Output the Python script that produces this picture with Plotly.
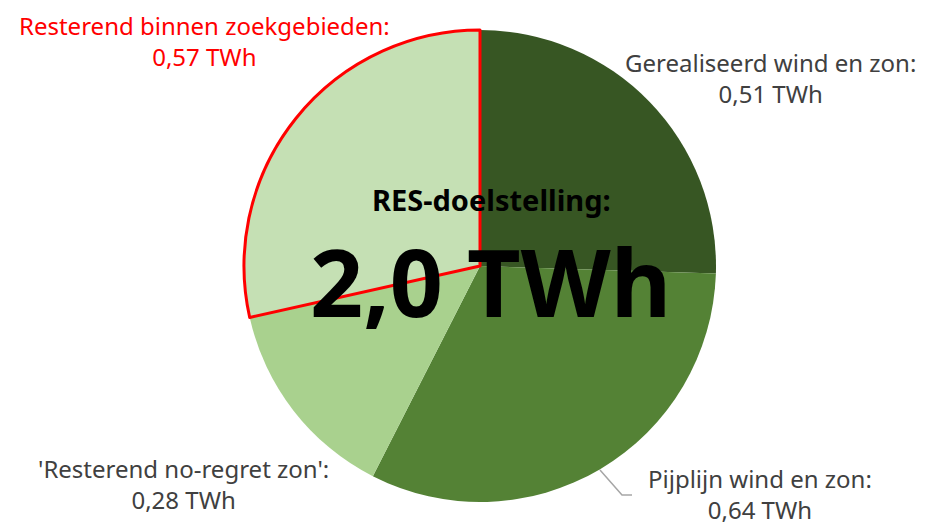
import plotly.graph_objects as go

# page has a default 8px body margin; lay out in reference pixels, shifted by it
OFF = 8
W, H = 928 - OFF, 526 - OFF

labels = ["Gerealiseerd wind en zon", "Pijplijn wind en zon",
          "'Resterend no-regret zon'", "Resterend binnen zoekgebieden"]
values = [0.51, 0.64, 0.28, 0.57]
value_text = ["0,51 TWh", "0,64 TWh", "0,28 TWh", "0,57 TWh"]
colors = ["#375623", "#548235", "#A9D18E", "#C5E0B4"]
line_colors = ["rgba(0,0,0,0)", "rgba(0,0,0,0)", "rgba(0,0,0,0)", "#FF0000"]
line_widths = [0, 0, 0, 3]
label_colors = ["#404040", "#404040", "#404040", "#FF0000"]
total_title = "RES-doelstelling:"
total_text = "2,0 TWh"


def px(x):
    return (x - OFF) / W


def py(y):
    return 1 - (y - OFF) / H


cx, cy, r = 480, 266, 236

fig = go.Figure(go.Pie(
    labels=labels, values=values, sort=False, direction="clockwise", rotation=0,
    marker=dict(colors=colors, line=dict(color=line_colors, width=line_widths)),
    textinfo="none", hoverinfo="label+value", showlegend=False,
    domain=dict(x=[px(cx - r), px(cx + r)], y=[py(cy + r), py(cy - r)]),
))

font = "Noto Sans, Open Sans, sans-serif"
label_pos = [(770, 78), (760, 494), (183, 484), (204, 41)]
for lab, vt, col, (x, y) in zip(labels, value_text, label_colors, label_pos):
    fig.add_annotation(x=px(x), y=py(y), xref="paper", yref="paper",
                       text=f"{lab}:<br>{vt}", showarrow=False,
                       font=dict(family=font, size=24, color=col),
                       align="center", xanchor="center", yanchor="middle")

fig.add_annotation(x=px(491), y=py(199), xref="paper", yref="paper", text=f"<b>{total_title}</b>",
                   showarrow=False, font=dict(family=font, size=29, color="#000000"),
                   xanchor="center", yanchor="middle")
fig.add_annotation(x=px(490), y=py(281), xref="paper", yref="paper", text=f"<b>{total_text}</b>",
                   showarrow=False, font=dict(family=font, size=93, color="#000000"),
                   xanchor="center", yanchor="middle")

fig.add_shape(type="path", xref="paper", yref="paper",
              path=f"M {px(600)},{py(470)} L {px(622)},{py(495)} L {px(632)},{py(495)}",
              line=dict(color="#A6A6A6", width=1.5))

fig.update_layout(width=W, height=H, margin=dict(l=0, r=0, t=0, b=0),
                  paper_bgcolor="white", plot_bgcolor="white")
fig.write_html("out.html")
